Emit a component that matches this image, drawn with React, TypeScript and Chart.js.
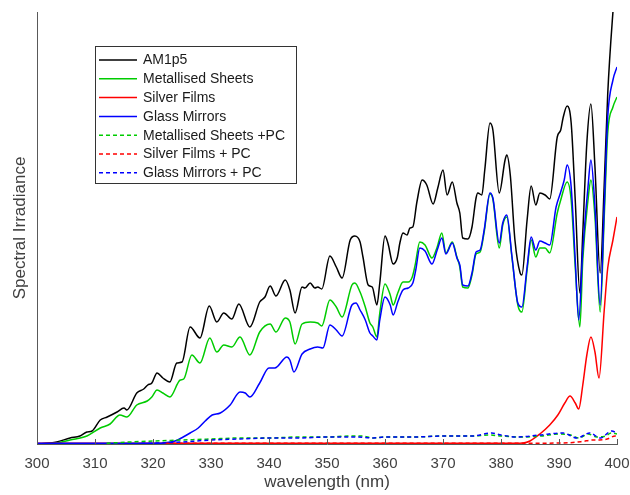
import React, { useEffect, useRef } from "react";
import { Chart, registerables } from "chart.js";

Chart.register(...registerables);

// ---- data (wavelength nm / relative spectral irradiance) ----
const amX = [300,302.2,303.4,305.7,307.4,308.6,309.5,310.9,312.1,313.8,315.0,315.5,317.2,318.4,319.1,319.8,320.7,321.7,322.9,324.1,325.0,326.4,328.1,329.7,331.0,332.2,333.6,334.8,336.7,338.4,339.3,340.2,341.2,342.8,343.6,344.5,345.7,346.2,347.1,347.9,348.4,349.1,350.5,351.6,352.6,354.0,354.8,355.7,356.2,357.1,357.8,358.6,359.1,360.0,360.5,361.4,362.1,362.6,363.1,363.8,364.3,364.8,365.5,366.4,367.2,368.3,369.1,370.0,370.7,371.6,372.4,372.9,373.4,374.3,375.0,375.7,376.0,376.7,377.2,378.1,378.6,379.7,380.7,381.0,381.6,382.4,383.3,383.6,384.5,385.2,386.0,386.7,387.6,388.4,389.7,390.3,390.7,391.4,392.1,392.8,393.6,394.1,394.8,395.5,396.2,397.1,397.8,398.4,399.3,400];
const amY = [0,1,2,6,8,12,13,24,27,32,36,34,51,55,59,61,71,66,62,81,82,117,106,138,122,131,125,140,117,142,147,158,148,164,154,131,157,156,161,156,157,155,188,177,166,204,208,202,187,159,157,139,161,208,201,180,186,202,211,209,216,217,242,264,259,240,256,274,249,262,241,231,206,205,217,246,251,249,274,321,314,251,284,289,269,204,171,169,224,258,239,251,249,245,307,314,326,338,321,244,151,211,301,340,277,171,260,350,432,480];

const msX = [300,303.4,305.7,308.6,310.9,312.6,314.3,315.5,317.2,319.0,319.8,320.7,321.7,322.9,324.7,325.3,326.7,328.1,329.8,331.0,332.2,333.6,335.0,336.7,338.4,340.2,341.2,342.8,343.6,344.5,345.7,347.1,348.4,349.1,350.5,351.6,352.6,354.3,354.8,355.7,356.6,357.4,357.9,358.6,359.1,360.0,360.9,361.4,362.2,363.1,364.0,364.7,365.2,366.0,366.9,368.1,369.0,369.8,370.5,371.6,372.4,372.9,373.4,374.3,375.0,375.7,376.4,377.1,378.1,378.6,379.7,380.3,381.0,381.9,382.9,383.6,384.5,385.2,386.0,386.7,387.6,388.4,389.7,390.3,391.4,392.1,392.8,393.6,394.1,395.0,395.5,396.2,397.1,397.8,398.4,399.3,400];
const msY = [0,1,4,8,16,20,29,27,39,43,47,54,51,47,64,65,89,81,106,92,99,97,107,89,112,120,112,126,122,100,120,122,121,118,144,137,127,159,161,152,137,121,117,107,131,160,149,139,151,162,162,167,179,202,199,186,197,211,191,202,187,177,157,156,169,190,192,212,250,245,196,219,227,186,139,132,174,204,187,196,196,191,231,244,262,244,177,117,184,244,264,227,132,227,311,337,347];

const sfX = [300,381,383.8,385.0,386.7,388.4,389.8,391.0,391.9,392.8,393.4,394.1,394.8,395.5,396.2,396.9,397.8,398.4,399.3,400];
const sfY = [0.7,0.7,1,3,10,19,29,41,48,41,35,59,89,107,92,66,134,176,204,227];

const gmX = [300,320.7,321.7,323.8,325.2,326.4,327.8,329.0,330.2,331.6,333.3,335.0,335.9,336.7,338.4,340.0,341.0,343.1,343.6,344.3,345.7,347.1,348.4,349.3,350.5,351.6,352.6,354.3,355.0,355.7,356.6,357.4,357.9,358.6,359.1,360.0,360.9,361.4,362.2,363.1,364.0,364.8,365.3,366.0,366.9,368.1,369.0,369.8,370.5,371.6,372.4,372.9,373.4,374.3,375.0,375.7,376.4,377.1,378.1,378.6,379.7,380.3,381.0,381.9,382.9,383.6,384.5,385.2,386.0,386.7,387.6,388.4,389.5,390.3,390.9,391.4,392.1,392.8,393.4,394.1,395.0,395.5,396.2,397.1,397.8,398.4,399.3,400];
const gmY = [0.7,0.7,1,3,7,11,16,23,29,31,39,52,51,47,61,76,76,87,84,72,90,95,97,96,119,114,108,139,141,134,124,111,108,104,124,147,139,129,142,154,156,161,174,196,193,180,194,206,190,201,186,179,159,158,171,192,194,214,251,246,201,221,229,187,141,137,177,207,194,203,201,199,237,252,264,279,257,184,124,194,257,284,237,139,237,327,364,377];

const msPcX = [312,316,320,325,330,335,340,345,350,354,356,358,360,365,370,375,378,380,383,387,390,392,393.5,395,396.5,398,399,400];
const msPcY = [0.7,2,3,4,5,6,6,7,7,8,8,6,7,7,8,8,9,8,7,8,10,9,6,10,7,8,11,10];

const sfPcX = [322,386,390,392.4,394,395.9,397,398.3,399.7,400];
const sfPcY = [0.7,0.7,1,1.5,2.5,4,4,5,8,8];

const gmPcX = [318,321,325,330,335,340,345,350,355,358,360,365,370,375,378.4,380,382.8,386.7,390.7,393.1,395.3,397.1,399.1,400];
const gmPcY = [0.7,1,2,4,5,6,6,7,7,6,7,7,8,8,11,9,7,9,11,6,11,6,13,11];

const seriesLabels = [
  "AM1p5",
  "Metallised Sheets",
  "Silver Films",
  "Glass Mirrors",
  "Metallised Sheets +PC",
  "Silver Films + PC",
  "Glass Mirrors + PC",
];
const xTitle = "wavelength (nm)";
const yTitle = "Spectral Irradiance";

const FONT = '"Liberation Sans", Arial, sans-serif';
const AXIS = "#595959";
const TEXT = "#404040";

const pts = (xs: number[], ys: number[]) => xs.map((x, i) => ({ x, y: ys[i] }));

const decorPlugin = {
  id: "decor",
  afterDraw(chart: any) {
    const { ctx, chartArea, scales } = chart;
    const xs = scales.x;
    ctx.save();
    // inward tick marks
    ctx.strokeStyle = AXIS;
    ctx.lineWidth = 1;
    xs.ticks.forEach((t: any) => {
      const px = Math.round(xs.getPixelForValue(t.value)) + 0.5;
      ctx.beginPath();
      ctx.moveTo(px, chartArea.bottom);
      ctx.lineTo(px, chartArea.bottom - 5);
      ctx.stroke();
    });
    // boxed legend
    const lx = chartArea.left + 58;
    const ly = chartArea.top + 34;
    const w = 201;
    const h = 137;
    ctx.fillStyle = "#ffffff";
    ctx.fillRect(lx, ly, w, h);
    ctx.strokeStyle = "#333333";
    ctx.strokeRect(lx + 0.5, ly + 0.5, w, h);
    chart.data.datasets.forEach((ds: any, i: number) => {
      const y = ly + 14 + i * 18.8;
      ctx.strokeStyle = ds.borderColor;
      ctx.lineWidth = 1.5;
      ctx.setLineDash(ds.borderDash || []);
      ctx.beginPath();
      ctx.moveTo(lx + 4, y);
      ctx.lineTo(lx + 42, y);
      ctx.stroke();
      ctx.setLineDash([]);
      ctx.fillStyle = "#1a1a1a";
      ctx.font = `14px ${FONT}`;
      ctx.textBaseline = "middle";
      ctx.textAlign = "left";
      ctx.fillText(ds.label, lx + 48, y + 0.5);
    });
    ctx.restore();
  },
};

export default function App() {
  const ref = useRef<HTMLCanvasElement | null>(null);

  useEffect(() => {
    if (!ref.current) return;
    const mk = (i: number, xs: number[], ys: number[], color: string, dash?: number[]) => ({
      label: seriesLabels[i],
      data: pts(xs, ys),
      borderColor: color,
      backgroundColor: color,
      borderWidth: 1.5,
      borderDash: dash || [],
      pointRadius: 0,
      cubicInterpolationMode: "monotone" as const,
      order: 10 - i,
    });
    const chart = new Chart(ref.current, {
      type: "line",
      data: {
        datasets: [
          mk(0, amX, amY, "#000000"),
          mk(1, msX, msY, "#00cc00"),
          mk(2, sfX, sfY, "#ff0000"),
          mk(3, gmX, gmY, "#0000ff"),
          mk(4, msPcX, msPcY, "#00cc00", [4, 3]),
          mk(5, sfPcX, sfPcY, "#ff0000", [4, 3]),
          mk(6, gmPcX, gmPcY, "#0000ff", [4, 3]),
        ],
      },
      options: {
        animation: false,
        responsive: true,
        maintainAspectRatio: false,
        layout: { padding: { top: 12, right: 13, left: 0, bottom: 0 } },
        plugins: { legend: { display: false }, tooltip: { enabled: false } },
        scales: {
          x: {
            type: "linear",
            min: 300,
            max: 400,
            grid: { display: false, drawTicks: false },
            border: { display: true, color: AXIS, width: 1 },
            ticks: { stepSize: 10, color: TEXT, font: { family: FONT, size: 15 }, padding: 11, maxRotation: 0 },
            title: { display: true, text: xTitle, color: TEXT, font: { family: FONT, size: 17 }, padding: { top: 0, bottom: 2 } },
            afterFit: (s: any) => {
              s.height = 51;
              s.paddingLeft = 0;
              s.paddingRight = 0;
            },
          },
          y: {
            min: 0,
            max: 432,
            grid: { display: false, drawTicks: false },
            border: { display: true, color: AXIS, width: 1 },
            ticks: { display: false },
            title: { display: true, text: yTitle, color: TEXT, font: { family: FONT, size: 17 }, padding: { top: 10, bottom: 0 } },
            afterFit: (s: any) => {
              s.width = 37;
              s.paddingTop = 0;
              s.paddingBottom = 0;
            },
          },
        },
      },
      plugins: [decorPlugin],
    });
    return () => chart.destroy();
  }, []);

  return (
    <div style={{ position: "fixed", left: 0, top: 0, width: 630, height: 495, background: "#fff" }}>
      <canvas ref={ref} />
    </div>
  );
}
